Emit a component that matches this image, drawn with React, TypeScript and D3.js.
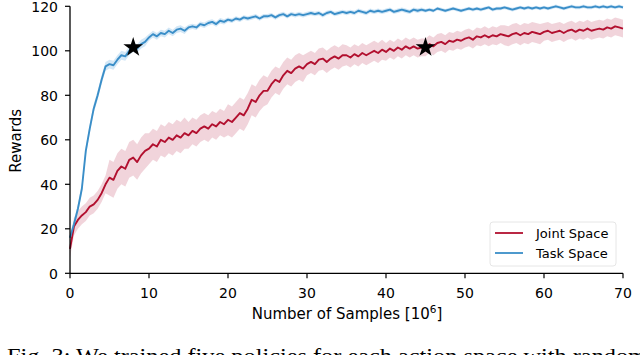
import * as d3 from "d3";

// x is sampled every 0.5 (x10^6 samples), from 0 to 70
const xStep = 0.5;

// Joint Space mean reward, rows of 10 points (5 units each)
const jointValues = [
  11, 21, 24, 26, 27.5, 30, 31, 33, 36, 40,
  43, 42, 46, 48, 47, 51, 52, 50, 53, 55,
  56, 58, 57, 60, 59, 61, 60, 62, 61, 63,
  62, 64, 63, 65, 66, 65, 67, 66, 68, 67,
  69, 68, 70, 72, 71, 74, 78, 77, 80, 82,
  82, 85, 87, 86, 89, 91, 90, 92, 93, 92,
  94, 95, 94, 96, 96.5, 95, 96.5, 97.5, 96.5, 98,
  98, 97, 98.5, 97.5, 99, 98, 99, 100, 99, 100.5,
  99.5, 101, 100, 101.5, 100.5, 102, 101, 102, 101, 101.5,
  101.5, 103, 102, 103.5, 104, 103, 104.5, 104, 105, 104.5,
  105.5, 106, 105, 106.5, 106, 107, 106, 107, 106.5, 107.5,
  107, 106.5, 107.5, 108, 107, 108, 107.5, 108.5, 108, 107.5,
  108.5, 109, 108, 108.5, 109, 108, 109, 109.5, 108.5, 109.5,
  109, 110, 109, 109.5, 110, 109.5, 110.5, 110, 111, 110.5,
  110,
];

// Task Space mean reward
const taskValues = [
  16, 22, 29, 38, 55, 65, 74, 80, 87, 93,
  94, 93.5, 96, 98, 97.5, 100, 101.5, 101, 103, 104,
  106, 107.5, 106.5, 108, 107.5, 109, 108, 109.5, 110, 109,
  110.5, 111, 110.5, 112, 111.5, 112.5, 113, 112, 113.5, 113,
  114, 113.5, 114.5, 114, 115, 114.5, 115, 115.5, 114.5, 115.5,
  115.5, 116, 115, 116, 116.5, 115.5, 116.5, 116, 116.5, 116,
  116.5, 117, 116.5, 117, 116, 117, 117.5, 116.5, 117, 117.5,
  117, 117.5, 117, 118, 117.5, 117, 118, 117.5, 118, 117.5,
  118, 118.5, 117.5, 118, 118.5, 118, 117.5, 118.5, 118, 118.5,
  118, 118.5, 118, 119, 118.5, 118, 118.5, 119, 118.5, 118,
  118.5, 119, 118.5, 119, 118.5, 119, 119.5, 118.5, 119, 119,
  119.5, 119, 118.5, 119, 119.5, 119, 119.5, 119, 119.5, 119,
  119.5, 119, 119.5, 120, 119.5, 119, 119.5, 120, 119.5, 119.5,
  120, 119.5, 119.5, 120, 119.5, 120, 119.5, 120, 119.5, 120,
  119.5,
];

// spread of the runs around the mean, one value per 5-unit block
const jointSpread = [4, 8, 7, 6, 7, 6, 5, 4.5, 4, 4, 4, 4.5, 4, 4, 4];
const taskSpread = [2, 2, 1.5, 1.2, 1, 1, 1, 1, 1, 0.8, 0.8, 0.8, 0.8, 0.8, 0.8];

// starred points
const starPoints = [
  { x: 8, y: 101.5 },
  { x: 45, y: 101.5 },
];

const xTicks = [0, 10, 20, 30, 40, 50, 60, 70];
const yTicks = [0, 20, 40, 60, 80, 100, 120];

const series = [
  { name: "Joint Space", values: jointValues, spread: jointSpread, color: "#b2102f", band: "#e4a9b7" },
  { name: "Task Space", values: taskValues, spread: taskSpread, color: "#3a8ec8", band: "#a8d0ee" },
];

const W = 640;
const H = 355;
const margin = { top: 6.3, right: 17, bottom: 82, left: 70 };

export default function App() {
  const x = d3.scaleLinear().domain([0, 70]).range([margin.left, W - margin.right]);
  const y = d3.scaleLinear().domain([0, 120]).range([H - margin.bottom + 0.3, margin.top]);

  const line = d3
    .line<number>()
    .x((_, i) => x(i * xStep))
    .y((d) => y(d));

  const spreadAt = (spread: number[], i: number) =>
    spread[Math.min(spread.length - 1, Math.floor((i * xStep) / 5))];

  const band = (values: number[], spread: number[]) =>
    d3
      .area<number>()
      .x((_, i) => x(i * xStep))
      .y0((d, i) => y(Math.max(0, d - spreadAt(spread, i))))
      .y1((d, i) => y(d + spreadAt(spread, i)))(values);

  const star = d3.symbol().type(d3.symbolStar).size(120)();
  const font = "'DejaVu Sans', sans-serif";
  const y0 = y(0);

  return (
    <svg
      width={W}
      height={H}
      style={{ position: "absolute", left: 0, top: 0, background: "#fff" }}
      fontFamily={font}
    >
      {series.map((s) => (
        <path key={s.name + "-band"} d={band(s.values, s.spread) || ""} fill={s.band} opacity={0.5} />
      ))}
      {series.map((s) => (
        <path
          key={s.name}
          d={line(s.values) || ""}
          fill="none"
          stroke={s.color}
          strokeWidth={1.9}
          strokeLinejoin="round"
        />
      ))}
      {starPoints.map((p, i) => (
        <path key={i} d={star} transform={`translate(${x(p.x)},${y(p.y)})`} fill="#000" />
      ))}

      {/* axes */}
      <line x1={x(0)} x2={x(0)} y1={y(120)} y2={y0} stroke="#000" strokeWidth={1.3} />
      <line x1={x(0)} x2={x(70)} y1={y0} y2={y0} stroke="#000" strokeWidth={1.3} />
      {yTicks.map((t) => (
        <g key={"y" + t}>
          <line x1={x(0) - 5} x2={x(0)} y1={y(t)} y2={y(t)} stroke="#000" strokeWidth={1.2} />
          <text x={x(0) - 12} y={y(t) + 0.5} dy="0.36em" textAnchor="end" fontSize={14}>
            {t}
          </text>
        </g>
      ))}
      {xTicks.map((t) => (
        <g key={"x" + t}>
          <line x1={x(t)} x2={x(t)} y1={y0} y2={y0 + 5} stroke="#000" strokeWidth={1.2} />
          <text x={x(t)} y={298} textAnchor="middle" fontSize={14}>
            {t}
          </text>
        </g>
      ))}
      <text x={347} y={318.5} textAnchor="middle" fontSize={15}>
        Number of Samples [10
        <tspan fontSize={10.5} dy={-6}>
          6
        </tspan>
        <tspan dy={6}>]</tspan>
      </text>
      <text transform={`translate(21,${y(60) + 1}) rotate(-90)`} textAnchor="middle" fontSize={15}>
        Rewards
      </text>

      {/* legend */}
      <rect x={490} y={222} width={126} height={44} rx={3} fill="#fff" stroke="#dddddd" strokeWidth={0.8} opacity={0.9} />
      {series.map((s, i) => (
        <g key={s.name + "-legend"}>
          <line x1={495} x2={523} y1={233 + i * 20} y2={233 + i * 20} stroke={s.color} strokeWidth={1.8} />
          <text x={536} y={233 + i * 20} dy="0.36em" fontSize={13}>
            {s.name}
          </text>
        </g>
      ))}

      {/* caption, cut by the frame */}
      <text
        x={7}
        y={363}
        fontFamily="'Liberation Serif', 'Times New Roman', serif"
        fontSize={21}
        textLength={640}
        lengthAdjust="spacingAndGlyphs"
      >
        Fig. 3: We trained five policies for each action space with random
      </text>
    </svg>
  );
}
